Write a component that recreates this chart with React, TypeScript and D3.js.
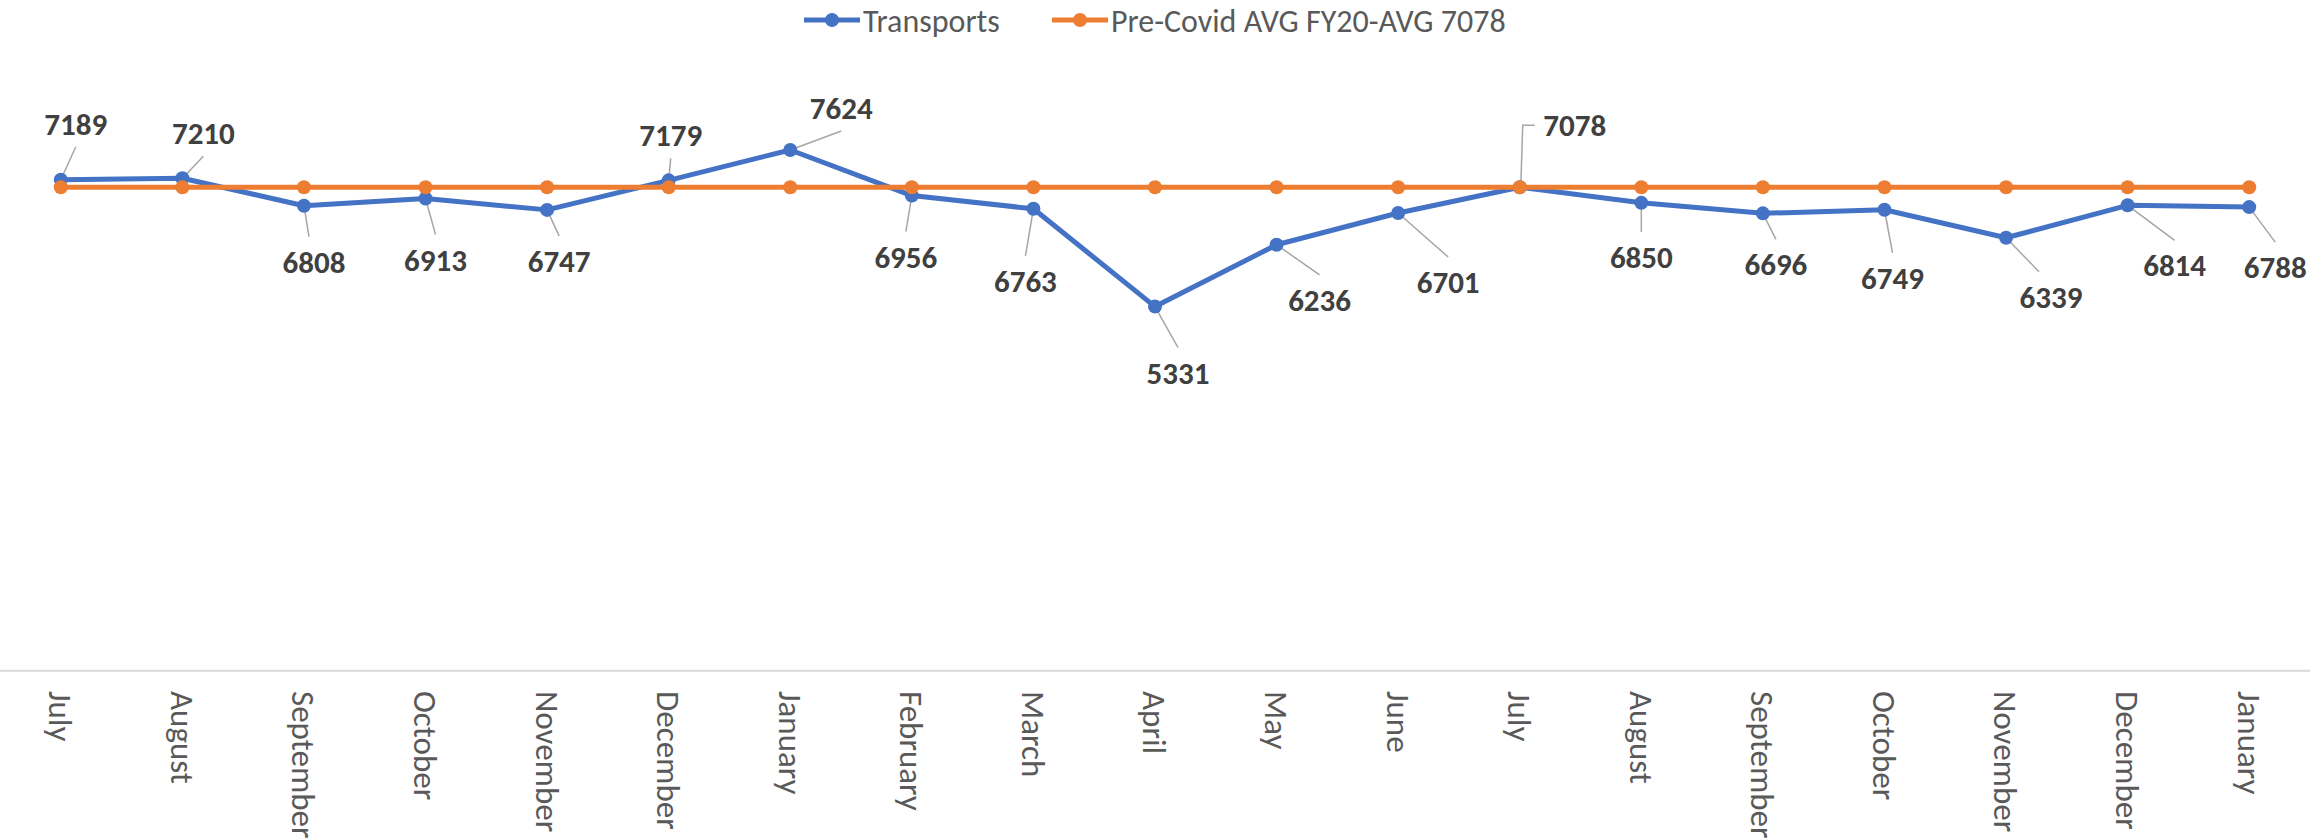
import React from 'react';
import * as d3 from 'd3';

// months along the bottom (FY21 July .. FY22 January)
const months = [
  'July', 'August', 'September', 'October', 'November', 'December', 'January',
  'February', 'March', 'April', 'May', 'June', 'July', 'August', 'September',
  'October', 'November', 'December', 'January',
];
const transports = [
  7189, 7210, 6808, 6913, 6747, 7179, 7624, 6956, 6763, 5331, 6236, 6701,
  7078, 6850, 6696, 6749, 6339, 6814, 6788,
];
const preCovidAvg = 7078;
const seriesNames = ['Transports', 'Pre-Covid AVG FY20-AVG 7078'];

// where Excel's moved data labels sit, relative to their point (px)
// [dx to label centre, dy to baseline, leader x shift]
const labelNudge: [number, number, number][] = [
  [15, -45, 0], [21, -34, 0], [10, 67, -5], [10, 72, 0], [12, 62, 0],
  [2, -34, 0], [51, -31, 0], [-6, 72, 0], [-8, 83, 0], [23, 77, 0],
  [43, 66, 0], [50, 80, 0], [55, -51, 0], [0, 65, 0], [13, 62, 0],
  [8, 79, 0], [45, 70, -12], [47, 71, 0], [26, 71, 0],
];

const W = 2310;
const H = 839;
const BLUE = '#4472C4';
const ORANGE = '#ED7D31';
const FONT = 'Carlito, Lato, sans-serif';

export default function App() {
  const idx = months.map((_, i) => i);
  const x = d3.scalePoint<number>().domain(idx).range([0, W]).padding(0.5);
  const y = d3.scaleLinear().domain([0, 9000]).range([670.7, 56]);

  const line = d3
    .line<number>()
    .x((_, i) => x(i)!)
    .y((d) => y(d));

  const avg = months.map(() => preCovidAvg);

  // legend row
  const ly = 20;

  return (
    <svg
      width={W}
      height={H}
      style={{ position: 'absolute', left: 0, top: 0, background: 'white', fontFamily: FONT }}
    >
      {/* legend */}
      <g>
        <line x1={804} x2={860} y1={ly} y2={ly} stroke={BLUE} strokeWidth={5} />
        <circle cx={832} cy={ly} r={7} fill={BLUE} />
        <text x={863} y={ly + 11.5} fontSize={32} fill="#595959">{seriesNames[0]}</text>
        <line x1={1052} x2={1108} y1={ly} y2={ly} stroke={ORANGE} strokeWidth={5} />
        <circle cx={1080} cy={ly} r={7} fill={ORANGE} />
        <text x={1111} y={ly + 11.5} fontSize={32} fill="#595959">{seriesNames[1]}</text>
      </g>

      {/* category axis */}
      <line x1={0} x2={W} y1={y(0)} y2={y(0)} stroke="#D9D9D9" strokeWidth={2} />
      {months.map((m, i) => (
        <text
          key={'m' + i}
          transform={`translate(${x(i)},691) rotate(90)`}
          dy="0.35em"
          fontSize={33}
          fill="#595959"
        >
          {m}
        </text>
      ))}

      {/* leader lines */}
      {transports.map((v, i) => {
        const px = x(i)!;
        const py = y(v);
        const [dx, dy, lx] = labelNudge[i];
        const bx = px + dx;
        const by = py + dy;
        if (i === 12) {
          const my = by - 11;
          return (
            <polyline
              key={'l' + i}
              points={`${px + 1},${py} ${px + 3},${my} ${bx - 40},${my}`}
              fill="none"
              stroke="#A6A6A6"
              strokeWidth={1.5}
            />
          );
        }
        const ey = dy < 0 ? by + 12 : by - 36;
        return (
          <line key={'l' + i} x1={px} y1={py} x2={bx + lx} y2={ey} stroke="#A6A6A6" strokeWidth={1.5} />
        );
      })}

      {/* transports series */}
      <path d={line(transports) ?? ''} fill="none" stroke={BLUE} strokeWidth={5} strokeLinejoin="round" />
      {transports.map((v, i) => (
        <circle key={'b' + i} cx={x(i)} cy={y(v)} r={7} fill={BLUE} />
      ))}

      {/* pre-covid average */}
      <path d={line(avg) ?? ''} fill="none" stroke={ORANGE} strokeWidth={5} strokeLinejoin="round" />
      {avg.map((v, i) => (
        <circle key={'o' + i} cx={x(i)} cy={y(v)} r={7} fill={ORANGE} />
      ))}

      {/* data labels */}
      {transports.map((v, i) => {
        const [dx, dy] = labelNudge[i];
        return (
          <text
            key={'t' + i}
            x={x(i)! + dx}
            y={y(v) + dy}
            textAnchor="middle"
            fontSize={31}
            fontWeight="bold"
            fill="#404040"
          >
            {v}
          </text>
        );
      })}
    </svg>
  );
}
